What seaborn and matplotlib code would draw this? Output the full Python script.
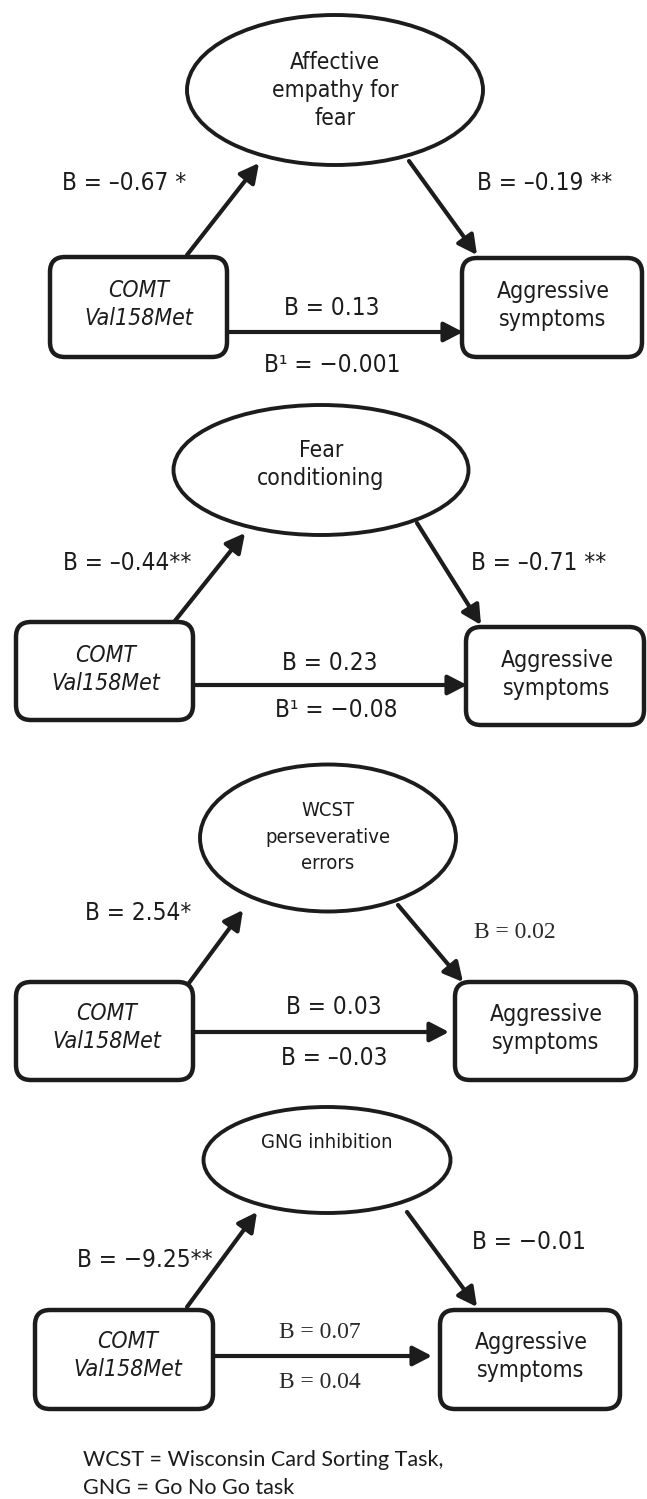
import os
import matplotlib
matplotlib.use("Agg")
import matplotlib.pyplot as plt
from matplotlib import font_manager as fm
from matplotlib.patches import Ellipse, FancyBboxPatch, ArrowStyle
import seaborn as sns

# path model results (text)
mediators = ["Affective\nempathy for\nfear", "Fear\nconditioning",
             "WCST\nperseverative\nerrors", "GNG inhibition"]
predictor = "COMT\nVal158Met"
outcome = "Aggressive\nsymptoms"
path_a = ["B = –0.67 *", "B = –0.44**", "B = 2.54*", "B = −9.25**"]
path_b = ["B = –0.19 **", "B = –0.71 **", "B = 0.02", "B = −0.01"]
path_c = ["B = 0.13", "B = 0.23", "B = 0.03", "B = 0.07"]
path_c1 = ["B¹ = −0.001", "B¹ = −0.08", "B = –0.03", "B = 0.04"]
note = "WCST = Wisconsin Card Sorting Task,\nGNG = Go No Go task"

# layout in pixel units (x right, y down)
ellipses = [(335, 90, 296, 150), (321, 470, 295, 130), (328, 838, 256, 147), (327, 1160, 247, 106)]
ell_text_y = [90, 464, 837, 1142]
ell_small = [False, False, True, True]
ell_gap = [28, 28, 26.5, 26]
left_box = [(50, 257, 227, 357), (16, 622, 193, 720), (16, 982, 193, 1080), (35, 1310, 213, 1409)]
right_box = [(462, 258, 642, 357), (466, 627, 644, 725), (455, 982, 636, 1080), (440, 1310, 620, 1409)]
left_txt = [(139, 304), (106, 669), (107, 1027), (128, 1356)]
right_txt = [(553, 305), (557, 674), (546, 1029), (531, 1357)]
arrow_a = [((187, 255), (259, 163)), ((174, 622), (245, 533)), ((189, 983), (243, 910)), ((187, 1307), (257, 1212))]
arrow_b = [((409, 161), (477, 255)), ((417, 523), (481, 625)), ((398, 905), (463, 982)), ((407, 1212), (477, 1307))]
arrow_c = [(227, 463, 332), (193, 467, 685), (193, 449, 1032), (213, 432, 1356)]
a_pos = [(124, 183), (127, 563), (138, 913), (145, 1260)]
b_pos = [(545, 183), (539, 563), (515, 932), (529, 1242)]
c_pos = [(332, 308), (330, 663), (334, 1007), (320, 1333)]
c1_pos = [(332, 365), (336, 710), (334, 1058), (320, 1382)]
serif_labels = {("b", 2), ("c", 3), ("c1", 3)}

sns.set_theme(style="white")
plt.rcParams["font.family"] = ["DejaVu Sans"]


def font_file(name):
    for f in fm.fontManager.ttflist:
        if os.path.basename(f.fname) == name:
            return f.fname
    return None


# the original uses a narrow Tahoma-like face; DejaVu Sans Condensed is closest
cond = font_file("DejaVuSansCondensed.ttf")
cond_it = font_file("DejaVuSansCondensed-Oblique.ttf")
if cond and cond_it:
    sans = dict(fname=cond)
    sans_it = dict(fname=cond_it)
    fs_lab, fs_box, fs_small = 17.5, 16.5, 14.5
else:
    sans = dict(family="DejaVu Sans")
    sans_it = dict(family="DejaVu Sans", style="italic")
    fs_lab, fs_box, fs_small = 16, 15, 13

ink = "#1c1c1c"
fig = plt.figure(figsize=(6.47, 14.99), dpi=100)
ax = fig.add_axes([0, 0, 1, 1])
ax.set_xlim(0, 647)
ax.set_ylim(1499, 0)
ax.axis("off")

head = ArrowStyle("-|>", head_length=0.5, head_width=0.26)


def arrow(p0, p1):
    ax.annotate("", xy=p1, xytext=p0,
                arrowprops=dict(arrowstyle=head, mutation_scale=23, lw=3,
                                color=ink, shrinkA=0, shrinkB=0))


def lines(x, y, s, gap, fp):
    parts = s.split("\n")
    n = len(parts)
    for k, t in enumerate(parts):
        ax.text(x, y + (k - (n - 1) / 2) * gap, t, ha="center", va="center",
                fontproperties=fp, color=ink)


def label(kind, i, s, pos):
    if (kind, i) in serif_labels:
        fp = fm.FontProperties(family="Liberation Serif", size=17)
        ax.text(*pos, s, ha="center", va="center", fontproperties=fp, color="#2a2a2a")
    else:
        fp = fm.FontProperties(size=fs_lab, **sans)
        ax.text(*pos, s, ha="center", va="center", fontproperties=fp, color=ink)


for i in range(4):
    cx, cy, w, h = ellipses[i]
    ax.add_patch(Ellipse((cx, cy), w, h, fill=False, lw=2.8, ec=ink))
    fp = fm.FontProperties(size=fs_small if ell_small[i] else fs_box, **sans)
    lines(cx, ell_text_y[i], mediators[i], ell_gap[i], fp)

    for (x0, y0, x1, y1) in (left_box[i], right_box[i]):
        ax.add_patch(FancyBboxPatch((x0, y0), x1 - x0, y1 - y0,
                                    boxstyle="round,pad=0,rounding_size=15",
                                    fill=False, lw=3.2, ec=ink))
    lines(*left_txt[i], predictor, 28, fm.FontProperties(size=fs_box, **sans_it))
    lines(*right_txt[i], outcome, 28, fm.FontProperties(size=fs_box, **sans))

    arrow(*arrow_a[i])
    arrow(*arrow_b[i])
    xa, xb, yc = arrow_c[i]
    arrow((xa, yc), (xb, yc))

    label("a", i, path_a[i], a_pos[i])
    label("b", i, path_b[i], b_pos[i])
    label("c", i, path_c[i], c_pos[i])
    label("c1", i, path_c1[i], c1_pos[i])

note_fp = fm.FontProperties(family="Lato", size=15.5)
for k, t in enumerate(note.split("\n")):
    ax.text(83, 1460 + 28 * k, t, ha="left", va="center",
            fontproperties=note_fp, color=ink)

fig.savefig("out.png", dpi=100)
